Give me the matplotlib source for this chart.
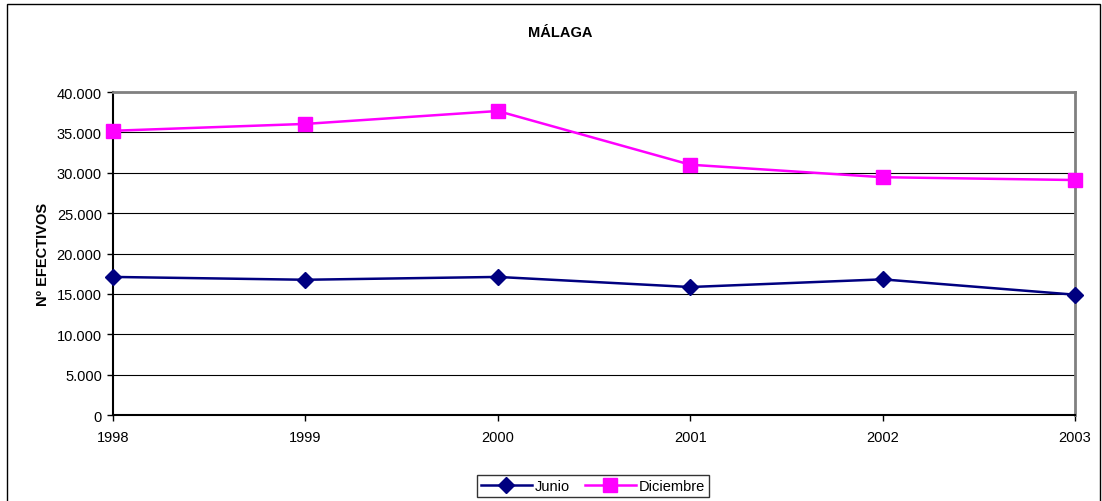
import matplotlib.pyplot as plt
from matplotlib.ticker import FuncFormatter
from matplotlib.patches import Rectangle

years = [1998, 1999, 2000, 2001, 2002, 2003]
junio = [17100, 16750, 17100, 15850, 16800, 14900]
diciembre = [35200, 36050, 37650, 31000, 29450, 29100]

plt.rcParams['font.family'] = ['Liberation Sans', 'DejaVu Sans']
plt.rcParams['font.size'] = 10.5

fig = plt.figure(figsize=(11.02, 5.02), dpi=100)
ax = fig.add_axes([0.1025, 0.1713, 0.873, 0.6434])

ax.plot(years, junio, color='#000080', lw=1.8, marker='D', markersize=8, label='Junio',
        zorder=4, clip_on=False)
ax.plot(years, diciembre, color='#FF00FF', lw=1.8, marker='s', markersize=10, label='Diciembre',
        zorder=4, clip_on=False)

ax.set_xlim(1998, 2003)
ax.set_ylim(0, 40000)
ax.set_xticks(years)
ax.set_yticks(range(0, 40001, 5000))
ax.yaxis.set_major_formatter(FuncFormatter(lambda v, p: f"{int(v):,}".replace(",", ".")))
ax.grid(axis='y', color='black', lw=0.8)
ax.set_axisbelow(True)
ax.tick_params(direction='out', length=4, width=1, colors='black', pad=4)
ax.tick_params(axis='x', pad=7)

for s in ['left', 'bottom']:
    ax.spines[s].set_color('black')
    ax.spines[s].set_linewidth(1.5)
for s in ['top', 'right']:
    ax.spines[s].set_color('#808080')
    ax.spines[s].set_linewidth(2)

ax.set_ylabel('Nº EFECTIVOS', fontweight='bold', labelpad=5)
fig.text(0.508, 0.934, 'MÁLAGA', ha='center', va='center', fontweight='bold')

leg = fig.legend(loc='center', bbox_to_anchor=(0.538, 0.03), ncol=2, frameon=True,
                 fancybox=False, edgecolor='black', handlelength=3.5, handletextpad=0.2,
                 columnspacing=1.0, borderpad=0.3)
leg.get_frame().set_linewidth(1)

fig.patches.append(Rectangle((7 / 1102, -0.01), 1093 / 1102, 1.0, transform=fig.transFigure,
                             fill=False, edgecolor='black', lw=1))

plt.savefig('out.png', dpi=100)
